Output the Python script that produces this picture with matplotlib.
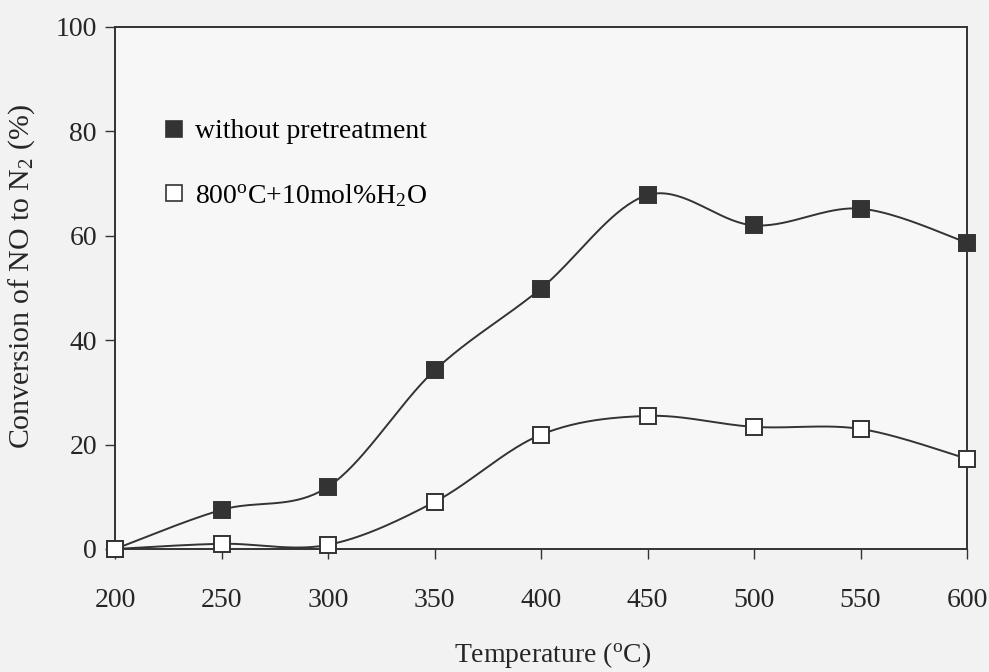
import numpy as np
import matplotlib
matplotlib.use("Agg")
import matplotlib.pyplot as plt
from matplotlib.lines import Line2D

plt.rcParams["font.family"] = ["Liberation Serif", "DejaVu Serif"]
plt.rcParams["mathtext.fontset"] = "custom"
plt.rcParams["mathtext.rm"] = "Liberation Serif"
plt.rcParams["mathtext.it"] = "Liberation Serif:italic"
plt.rcParams["mathtext.bf"] = "Liberation Serif:bold"

# Reaction temperature (°C)
temperature = [200, 250, 300, 350, 400, 450, 500, 550, 600]
# NO -> N2 conversion (%)
conv_untreated = [0.0, 7.5, 11.9, 34.2, 49.9, 67.8, 62.0, 65.2, 58.7]
conv_steamed = [0.0, 1.0, 0.8, 9.0, 21.9, 25.5, 23.4, 23.0, 17.3]

series_labels = ["without pretreatment", "800$^{\\mathrm{o}}$C+10mol%H$_2$O"]
x_ticks = [200, 250, 300, 350, 400, 450, 500, 550, 600]
y_ticks = [0, 20, 40, 60, 80, 100]

INK = "#333333"
TEXT = "#262626"


def smooth_curve(xs, ys, n=40):
    """Catmull-Rom style Bezier smoothing through every point."""
    p = np.column_stack([xs, ys]).astype(float)
    ext = np.vstack([p[0], p, p[-1]])
    out = []
    t = np.linspace(0, 1, n)[:, None]
    for i in range(len(p) - 1):
        p0, p1 = ext[i + 1], ext[i + 2]
        c1 = p0 + (ext[i + 2] - ext[i]) / 6.0
        c2 = p1 - (ext[i + 3] - ext[i + 1]) / 6.0
        seg = ((1 - t) ** 3) * p0 + 3 * ((1 - t) ** 2) * t * c1 \
            + 3 * (1 - t) * t ** 2 * c2 + t ** 3 * p1
        out.append(seg if i == 0 else seg[1:])
    seg = np.vstack(out)
    return seg[:, 0], seg[:, 1]


fig = plt.figure(figsize=(9.89, 6.72), dpi=100, facecolor="#f2f2f2")
ax = fig.add_axes([115 / 989, 1 - 549 / 672, (967 - 115) / 989, (549 - 27) / 672])
ax.set_facecolor("#f7f7f7")

for ys, face in [(conv_untreated, INK), (conv_steamed, "white")]:
    sx, sy = smooth_curve(temperature, ys)
    ax.plot(sx, sy, color=INK, lw=1.4, zorder=2, clip_on=False)
    ax.plot(temperature, ys, ls="none", marker="s", ms=12, mfc=face,
            mec=INK, mew=1.4, zorder=3, clip_on=False)

ax.set_xlim(200, 600)
ax.set_ylim(0, 100)
ax.set_xticks(x_ticks)
ax.set_yticks(y_ticks)
ax.tick_params(axis="both", direction="out", length=7, width=1.0,
               color=INK, labelcolor=TEXT, labelsize=20)
ax.tick_params(axis="x", pad=21)
ax.tick_params(axis="y", pad=6)
for s in ax.spines.values():
    s.set_color(INK)
    s.set_linewidth(1.4)

ax.set_xlabel("Temperature ($^{\\mathrm{o}}$C)", fontsize=20, color=TEXT)
ax.xaxis.set_label_coords(553 / 989, 1 - 662 / 672, transform=fig.transFigure)
ax.xaxis.label.set_va("baseline")
ax.set_ylabel("Conversion of NO to N$_2$ (%)", fontsize=21.5, color=TEXT)
ax.yaxis.set_label_coords(22 / 989, 1 - 277 / 672, transform=fig.transFigure)
ax.yaxis.label.set_va("center")

handles = [
    Line2D([], [], ls="none", marker="s", ms=11, mfc=INK, mec=INK, mew=1.2),
    Line2D([], [], ls="none", marker="s", ms=11, mfc="white", mec=INK, mew=1.2),
]
ax.legend(handles, series_labels, loc="upper left", bbox_to_anchor=(0.04, 0.845),
          frameon=False, fontsize=20, handletextpad=0.25, labelspacing=1.35,
          handlelength=1.0, borderaxespad=0)

fig.savefig("out.png", dpi=100, facecolor=fig.get_facecolor())
